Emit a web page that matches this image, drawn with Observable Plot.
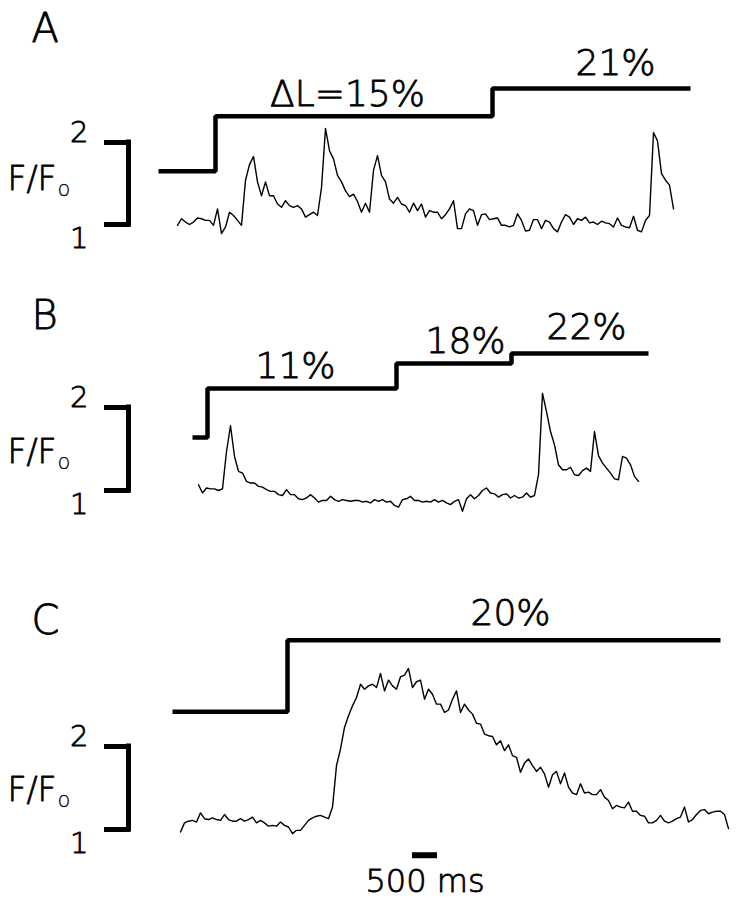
<!DOCTYPE html>
<html><head><meta charset="utf-8">
<script src="https://cdn.jsdelivr.net/npm/d3@7"></script>
<script src="https://cdn.jsdelivr.net/npm/@observablehq/plot@0.6"></script>
<style>
body{margin:0;background:#fff;}
#fig{width:737px;height:900px;background:#fff;}
#fig svg{display:block;}
</style></head><body><div id="fig"></div>
<script>
// ---- data (time in s, fluorescence in F/F0) ----
const dt = 0.08;               // sampling interval of the traces (s)
const traceA_t0 = 0.94;
const traceA = [0.99,1.07,1.03,1.00,1.03,1.08,1.07,1.05,1.05,0.99,
1.19,0.89,0.97,1.15,1.11,1.05,0.99,1.54,1.73,1.83,
1.52,1.35,1.52,1.35,1.35,1.25,1.21,1.29,1.23,1.21,
1.23,1.19,1.09,1.12,1.15,1.11,1.45,2.17,1.90,1.80,
1.60,1.52,1.41,1.34,1.37,1.28,1.15,1.26,1.15,1.66,
1.84,1.60,1.52,1.31,1.26,1.33,1.25,1.23,1.15,1.26,
1.17,1.25,1.09,1.17,1.15,1.15,1.07,1.12,1.19,1.29,
0.95,0.95,1.13,1.19,1.17,0.99,1.12,1.13,1.06,1.07,
1.08,0.99,0.99,0.97,0.99,1.13,1.05,0.92,0.93,1.06,
1.06,0.95,1.05,1.03,0.95,0.91,1.03,1.12,1.09,1.00,
1.07,1.05,1.09,1.02,1.03,1.00,1.04,1.02,1.01,0.97,
1.08,0.99,0.97,0.96,1.10,0.93,0.91,1.05,1.11,2.12,
2.02,1.62,1.54,1.48,1.19];
const traceB_t0 = 1.36;
const traceB = [1.07,0.97,1.03,1.02,1.02,1.00,1.02,1.47,1.78,1.41,
1.23,1.21,1.11,1.09,1.09,1.05,1.04,1.01,0.99,0.99,
0.95,0.94,1.01,0.95,0.95,0.90,0.89,0.91,0.95,0.91,
0.86,0.88,0.88,0.93,0.89,0.87,0.89,0.88,0.87,0.88,
0.88,0.86,0.87,0.85,0.89,0.87,0.89,0.86,0.87,0.82,
0.80,0.89,0.90,0.93,0.88,0.88,0.86,0.87,0.86,0.89,
0.86,0.88,0.85,0.83,0.87,0.89,0.75,0.90,0.95,0.90,
0.94,1.00,1.03,0.97,0.96,0.92,0.95,0.96,0.91,0.94,
0.91,0.92,0.97,0.92,0.94,1.19,2.17,1.95,1.71,1.55,
1.31,1.25,1.25,1.28,1.19,1.18,1.24,1.27,1.23,1.71,
1.42,1.33,1.27,1.21,1.14,1.13,1.41,1.39,1.31,1.17,
1.11];
const traceC_t0 = 1.0;
const traceC = [0.97,1.08,1.10,1.11,1.09,1.20,1.13,1.12,1.14,1.12,
1.11,1.18,1.12,1.10,1.10,1.13,1.10,1.12,1.15,1.08,
1.11,1.08,1.04,1.05,1.04,1.09,1.05,1.03,0.95,0.99,
0.99,1.05,1.11,1.14,1.16,1.17,1.15,1.13,1.27,1.77,
1.97,2.23,2.37,2.49,2.59,2.75,2.69,2.73,2.75,2.71,
2.88,2.67,2.80,2.73,2.69,2.84,2.86,2.94,2.71,2.78,
2.80,2.57,2.69,2.63,2.51,2.51,2.41,2.44,2.57,2.67,
2.41,2.51,2.44,2.39,2.28,2.27,2.15,2.13,2.12,2.02,
2.07,1.95,2.02,1.89,1.87,1.69,1.80,1.85,1.77,1.70,
1.75,1.67,1.51,1.66,1.70,1.55,1.68,1.51,1.44,1.42,
1.55,1.44,1.45,1.42,1.42,1.48,1.39,1.35,1.25,1.29,
1.27,1.26,1.33,1.22,1.22,1.17,1.16,1.08,1.08,1.11,
1.17,1.10,1.08,1.10,1.13,1.15,1.27,1.09,1.12,1.18,
1.23,1.24,1.19,1.21,1.22,1.22,1.18,1.01];

// length-step (ΔL) traces: change times (s) and drawn level (in F/F0 frame units)
const stepA_t = [0.56, 1.70, 7.24, 11.2];
const stepA_level = [1.65, 2.32, 2.66, 2.66];
const stepB_t = [1.24, 1.54, 5.32, 7.62, 10.36];
const stepB_level = [1.64, 2.23, 2.53, 2.65, 2.65];
const stepC_t = [0.84, 3.14, 11.8];
const stepC_level = [2.42, 3.28, 3.28];

// step annotations
const labelA_text = ["ΔL=15%", "21%"];
const labelA_t = [4.34, 9.7];
const labelA_level = [2.45, 2.82];
const labelB_text = ["11%", "18%", "22%"];
const labelB_t = [3.3, 6.7, 9.12];
const labelB_level = [2.35, 2.66, 2.83];
const labelC_text = ["20%"];
const labelC_t = [7.6];
const labelC_level = [3.46];

const yTicks = [1, 2];
const yLabelMain = "F/F";
const yLabelSub = "o";
const panelLetters = ["A", "B", "C"];
const scaleBar_t = [5.64, 6.14];   // 500 ms
const scaleBar_level = 0.69;
const scaleBar_label = "500 ms";
const scaleBar_labelLevel = 0.25;

// ---- drawing ----
const FONT = "DejaVu Sans";
const W = 737;
const TXT = {fontFamily: FONT, fontWeight: 300, fill: "black", stroke: "black", strokeWidth: 0.8};

function panel(o) {
  const traceData = o.trace.map((f, i) => ({t: o.t0 + i * dt, f}));
  const stepData = o.stepT.map((t, i) => ({t, f: o.stepLevel[i]}));
  const labelData = o.labelText.map((text, i) => ({t: o.labelT[i], f: o.labelLevel[i], text}));
  const mid = (yTicks[0] + yTicks[1]) / 2;
  return Plot.plot({
    width: W, height: o.height,
    marginLeft: 130, marginRight: 7, marginTop: 0, marginBottom: 0,
    x: {domain: [0, 12], axis: null},
    y: {domain: [1, 2], range: o.yRange},
    style: {fontFamily: FONT, background: "white", color: "black", overflow: "visible"},
    marks: [
      Plot.axisY(yTicks, {tickSize: 26, strokeWidth: 5, tickFormat: () => "", label: null}),
      Plot.ruleX([0], {y1: yTicks[0], y2: yTicks[1], strokeWidth: 5, strokeLinecap: "square", dx: -2}),
      Plot.text([yTicks[1]], {y: d => d, text: d => String(d), frameAnchor: "left", textAnchor: "end",
        lineAnchor: "bottom", dx: -42, dy: -1, fontSize: 29, ...TXT}),
      Plot.text([yTicks[0]], {y: d => d, text: d => String(d), frameAnchor: "left", textAnchor: "end",
        lineAnchor: "top", dx: -42, dy: 3, fontSize: 29, ...TXT}),
      Plot.text([yLabelMain], {y: mid, frameAnchor: "left", textAnchor: "start",
        lineAnchor: "bottom", dx: -123, dy: o.ffDy + 11, fontSize: 33, ...TXT}),
      Plot.text([yLabelSub], {y: mid, frameAnchor: "left", textAnchor: "start",
        lineAnchor: "bottom", dx: -73, dy: o.ffDy + 17, fontSize: 21,
        fontFamily: FONT, fontWeight: 300, fill: "black", stroke: "black", strokeWidth: 0.3}),
      Plot.text([o.letter], {frameAnchor: "top-left", textAnchor: "start", lineAnchor: "top",
        dx: -99, dy: o.letterDy, fontSize: 40, ...TXT}),
      Plot.line(stepData, {x: "t", y: "f", curve: "step-after", strokeWidth: 4.5,
        strokeLinejoin: "miter", strokeLinecap: "butt"}),
      Plot.line(traceData, {x: "t", y: "f", strokeWidth: 1.4, strokeLinejoin: "round"}),
      Plot.text(labelData, {x: "t", y: "f", text: "text", textAnchor: "middle", lineAnchor: "bottom",
        fontSize: 36, ...TXT}),
      ...(o.extra || [])
    ]
  });
}

const fig = document.getElementById("fig");
fig.append(panel({letter: panelLetters[0], letterDy: 13, height: 280, yRange: [224, 142], ffDy: -5,
  trace: traceA, t0: traceA_t0, stepT: stepA_t, stepLevel: stepA_level,
  labelText: labelA_text, labelT: labelA_t, labelLevel: labelA_level}));
fig.append(panel({letter: panelLetters[1], letterDy: 20, height: 270, yRange: [210, 127], ffDy: 3,
  trace: traceB, t0: traceB_t0, stepT: stepB_t, stepLevel: stepB_level,
  labelText: labelB_text, labelT: labelB_t, labelLevel: labelB_level}));
fig.append(panel({letter: panelLetters[2], letterDy: 55, height: 350, yRange: [279, 196], ffDy: 2,
  trace: traceC, t0: traceC_t0, stepT: stepC_t, stepLevel: stepC_level,
  labelText: labelC_text, labelT: labelC_t, labelLevel: labelC_level,
  extra: [
    Plot.ruleY([scaleBar_level], {x1: scaleBar_t[0], x2: scaleBar_t[1], strokeWidth: 6}),
    Plot.text([scaleBar_label], {x: (scaleBar_t[0] + scaleBar_t[1]) / 2, y: scaleBar_labelLevel,
      textAnchor: "middle", lineAnchor: "bottom", fontSize: 32, ...TXT})
  ]}));
</script></body></html>
